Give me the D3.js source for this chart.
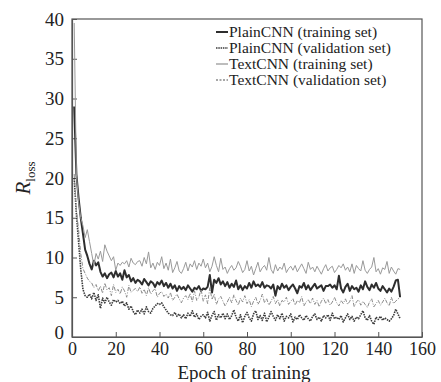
<!DOCTYPE html>
<html>
<head>
<meta charset="utf-8">
<script src="https://cdn.jsdelivr.net/npm/d3@7"></script>
<style>
  body { margin: 0; background: #fff; }
  svg text { font-family: "Liberation Serif", "Times New Roman", "DejaVu Serif", serif; fill: #222; }
</style>
</head>
<body>
<div id="viz_container"></div>
<script>
// epochs and loss values
const epochs = d3.range(1, 151);

const plainTrain = [
  29.0, 20.5, 17.5, 15.0, 13.0, 11.0, 10.2, 9.2, 8.5, 9.6,
  9.0, 9.4, 8.2, 7.6, 8.0, 7.4, 7.9, 8.1, 7.5, 8.3,
  7.6, 8.0, 7.2, 8.4, 7.5, 7.8, 7.0, 7.4, 6.8, 7.2,
  7.0, 6.6, 7.3, 6.9, 6.5, 7.0, 6.8, 6.3, 6.9, 6.6,
  7.1, 6.4, 6.8, 6.2, 6.7, 6.1, 6.5, 5.8, 6.4, 6.0,
  6.3, 5.9, 6.5, 6.1, 5.7, 6.2, 6.0, 6.4, 5.8, 6.1,
  6.0, 6.3, 7.8, 5.6, 7.2, 6.8, 7.4, 6.6, 7.0, 6.4,
  6.9, 6.2, 6.7, 6.3, 7.1, 6.0, 6.5, 5.9, 6.4, 6.1,
  6.8, 6.2, 7.0, 6.4, 6.6, 6.3, 6.9, 6.2, 6.5, 6.4,
  6.1, 6.6, 5.2, 6.4, 6.0, 6.7, 6.2, 6.5, 5.9, 6.3,
  6.6, 6.1, 5.5, 6.4, 6.2, 6.8, 6.0, 6.5, 5.9, 6.3,
  6.7, 6.1, 6.3, 6.5, 5.8, 6.4, 6.4, 6.6, 6.2, 6.5,
  6.0, 7.7, 6.1, 5.6, 6.3, 6.7, 5.8, 6.4, 6.0, 6.2,
  5.7, 6.5, 6.0, 7.0, 6.3, 5.9, 6.6, 6.2, 6.8, 6.1,
  5.8, 6.4, 6.0, 5.6, 6.1, 5.7, 6.3, 7.1, 7.2, 5.0
];

const plainVal = [
  20.0, 15.5, 12.0, 8.5, 6.0, 5.2, 5.0, 5.4, 4.8, 5.6,
  4.6, 5.3, 3.6, 4.9, 4.3, 5.0, 4.4, 4.0, 4.7, 4.4,
  4.6, 4.2, 4.5, 3.9, 4.3, 3.5, 3.9, 3.2, 2.8, 3.4,
  3.0, 3.5, 2.9, 3.8, 3.2, 3.0, 3.6, 3.9, 4.2, 4.1,
  4.3, 3.8, 3.4, 3.0, 2.8, 2.7, 3.1, 2.6, 2.9, 2.4,
  2.8, 2.3, 3.0, 2.6, 3.3, 2.5, 2.9, 2.2, 2.6, 2.8,
  2.4, 3.1, 2.0, 2.7, 3.2, 2.1, 2.8, 2.4, 3.0, 2.3,
  2.9, 2.2, 2.7, 3.4, 2.5, 2.0, 2.8, 1.8, 2.6, 3.1,
  2.4, 2.0, 2.9, 3.3, 2.2, 2.7, 2.1, 3.0, 1.9, 2.5,
  3.2, 2.6, 2.1, 2.8, 2.3, 3.0, 2.0, 2.6, 2.4, 2.9,
  1.9, 2.5, 2.2, 2.8, 2.4, 2.1, 2.7, 2.3, 2.0, 2.6,
  2.9, 2.2, 2.5, 2.0, 2.7, 2.4, 2.8, 2.1, 3.0, 2.3,
  2.5, 2.2, 2.7, 1.9, 2.4, 2.9, 2.2, 2.6, 2.0, 2.5,
  2.3, 2.8, 3.3, 2.4, 2.1, 2.7, 2.0, 1.6, 2.5, 2.2,
  2.6, 2.1, 2.4, 2.2, 2.0, 2.3, 2.7, 3.5, 2.9, 2.3
];

const textTrain = [
  39.5, 20.5, 17.0, 15.0, 14.0, 12.5, 13.5, 12.0, 10.5, 9.0,
  10.5, 9.8, 10.8, 9.5, 11.6, 10.8, 10.2, 9.6, 10.1, 8.4,
  9.3, 9.0, 9.4, 9.2, 9.6, 8.8, 9.9, 9.3, 9.1, 9.5,
  9.6, 8.9, 10.0, 9.2, 10.7, 8.7, 9.3, 8.5, 9.4, 9.0,
  10.1, 8.6, 9.3, 8.4, 9.8, 8.1, 8.7, 9.5, 8.3, 8.0,
  8.6, 9.4, 8.3, 9.2, 8.8, 9.6, 8.5, 9.3, 8.9, 9.8,
  8.7, 9.3, 8.2, 8.9, 10.1, 9.0, 8.2, 9.9, 8.5, 8.8,
  8.0, 8.6, 9.0, 8.4, 8.7, 9.5, 8.9, 8.1, 8.5, 9.6,
  8.3, 8.9, 7.8, 8.6, 9.4, 8.2, 8.7, 9.0, 8.4, 10.0,
  8.5, 8.0, 9.1, 8.3, 8.8, 8.5, 9.3, 8.1, 8.6, 8.9,
  8.4, 9.0, 8.2, 8.7, 9.2, 8.6, 8.0, 9.4, 8.5, 8.8,
  8.2, 8.9, 8.4, 7.9, 8.6, 9.1, 8.3, 8.7, 8.9, 8.1,
  8.5, 9.0, 8.7, 9.2, 8.4, 8.8, 8.2, 9.2, 8.0, 9.0,
  8.6, 8.3, 9.6, 8.4, 8.0, 8.5, 8.8, 10.0, 8.2, 8.6,
  7.9, 8.7, 8.5, 9.5, 8.0, 8.8, 8.3, 7.9, 8.6, 8.5
];

const textVal = [
  20.5, 16.0, 13.5, 10.5, 8.6, 8.0, 7.4, 7.0, 6.8, 6.2,
  6.6, 5.8, 6.4, 5.5, 6.8, 5.9, 6.2, 5.2, 6.6, 5.6,
  6.0, 5.4, 6.3, 5.8, 5.0, 6.5, 5.6, 5.9, 6.1, 5.7,
  6.3, 5.5, 6.0, 5.2, 6.2, 5.4, 5.8, 6.1, 5.0, 5.5,
  5.7, 5.1, 5.4, 4.9, 5.6, 4.6, 5.0, 5.4, 4.8, 4.3,
  4.9, 5.2, 4.7, 5.5, 4.4, 5.8, 4.6, 5.0, 6.0, 4.5,
  5.3, 4.2, 6.2, 4.7, 5.4, 4.1, 4.8, 5.1, 4.5, 3.9,
  4.4, 5.0, 4.3, 5.3, 4.6, 4.0, 4.9, 4.4, 5.2, 4.2,
  4.7, 3.8, 4.5, 5.0, 4.1, 4.6, 5.4, 4.3, 4.8, 4.0,
  4.5, 5.1, 4.2, 4.7, 3.9, 4.6, 4.4, 5.0, 4.1, 4.5,
  4.8, 4.0, 4.6, 4.3, 5.1, 3.9, 4.4, 4.7, 4.2, 4.9,
  4.1, 4.6, 3.8, 4.5, 4.9, 4.2, 4.7, 4.0, 4.4, 5.0,
  4.3, 3.9, 4.6, 4.2, 4.8, 4.1, 4.5, 5.2, 3.8, 4.4,
  4.7, 4.0, 4.5, 4.1, 3.7, 4.4, 4.8, 3.8, 4.2, 4.6,
  4.0, 4.4, 4.9, 4.3, 3.9, 5.0, 4.2, 4.5, 4.8, 4.9
];

const seriesNames = [
  "PlainCNN (training set)",
  "PlainCNN (validation set)",
  "TextCNN (training set)",
  "TextCNN (validation set)"
];
const xTicks = [0, 20, 40, 60, 80, 100, 120, 140, 160];
const yTicks = [0, 5, 10, 15, 20, 25, 30, 35, 40];

const serif = "'Liberation Serif', 'Times New Roman', 'DejaVu Serif', serif";

// line styles, in the same order as seriesNames
const styles = [
  {values: plainTrain, stroke: "#2e2e2e", width: 2, dash: null},
  {values: plainVal, stroke: "#3a3a3a", width: 1.6, dash: "1.5,1"},
  {values: textTrain, stroke: "#999", width: 1, dash: null},
  {values: textVal, stroke: "#8a8a8a", width: 1, dash: "4,1.5,1,1.5"}
];

const width = 441, height = 382;
const margin = {top: 19, right: 19, bottom: 45, left: 72};

const svg = d3.select("#viz_container")
  .append("svg")
    .attr("width", width)
    .attr("height", height)
    .attr("font-family", serif);

const xScale = d3.scaleLinear()
    .domain([0, 160])
    .range([margin.left, width - margin.right]);
const yScale = d3.scaleLinear()
    .domain([0, 40])
    .range([height - margin.bottom, margin.top]);

// frame
svg.append("rect")
    .attr("x", xScale(0))
    .attr("y", yScale(40))
    .attr("width", xScale(160) - xScale(0))
    .attr("height", yScale(0) - yScale(40))
    .attr("fill", "none")
    .attr("stroke", "#555")
    .attr("stroke-width", 1.2);

// axes with inward ticks
const xAxis = svg.append("g")
    .attr("transform", `translate(0, ${yScale(0)})`)
    .call(d3.axisBottom(xScale).tickValues(xTicks).tickSizeInner(-5).tickSizeOuter(0).tickPadding(5));
const yAxis = svg.append("g")
    .attr("transform", `translate(${xScale(0)}, 0)`)
    .call(d3.axisLeft(yScale).tickValues(yTicks).tickSizeInner(-5).tickSizeOuter(0).tickPadding(8));

[xAxis, yAxis].forEach(g => {
  g.attr("font-family", serif).attr("font-size", 19);
  g.select(".domain").attr("stroke", "#555").attr("stroke-width", 1.2);
  g.selectAll(".tick line").attr("stroke", "#555");
  g.selectAll(".tick text").attr("fill", "#222");
});
xAxis.attr("font-size", 18);
// the y "0" sits a little higher, away from the x "0"
yAxis.selectAll(".tick text").filter(d => d === 0).attr("dy", "0.1em");

// lines
const line = d3.line()
    .x((d, i) => xScale(epochs[i]))
    .y(d => yScale(d));

svg.append("g")
  .selectAll("path")
  .data(styles)
  .join("path")
    .attr("d", d => line(d.values))
    .attr("fill", "none")
    .attr("stroke", d => d.stroke)
    .attr("stroke-width", d => d.width)
    .attr("stroke-dasharray", d => d.dash)
    .attr("stroke-linejoin", "round");

// legend
const legend = svg.append("g");
seriesNames.forEach((name, i) => {
  const y = 32 + i * 16;
  legend.append("line")
      .attr("x1", 216).attr("x2", 228)
      .attr("y1", y).attr("y2", y)
      .attr("stroke", styles[i].stroke)
      .attr("stroke-width", Math.max(styles[i].width, 1.3))
      .attr("stroke-dasharray", styles[i].dash ? (i === 1 ? "1.5,0.8" : "2,1.5") : null);
  legend.append("text")
      .attr("x", 229)
      .attr("y", y)
      .attr("dy", "0.35em")
      .attr("font-size", 15.5)
      .text(name);
});

// axis titles
svg.append("text")
    .attr("x", (xScale(0) + xScale(160)) / 2 - 3)
    .attr("y", 379)
    .attr("text-anchor", "middle")
    .attr("font-size", 19)
    .text("Epoch of training");

const yTitle = svg.append("text")
    .attr("transform", `translate(30, 178) rotate(-90)`)
    .attr("text-anchor", "middle");
yTitle.append("tspan")
    .attr("font-style", "italic")
    .attr("font-size", 21)
    .text("R");
yTitle.append("tspan")
    .attr("dy", 5)
    .attr("font-size", 13)
    .text("loss");
</script>
</body>
</html>
